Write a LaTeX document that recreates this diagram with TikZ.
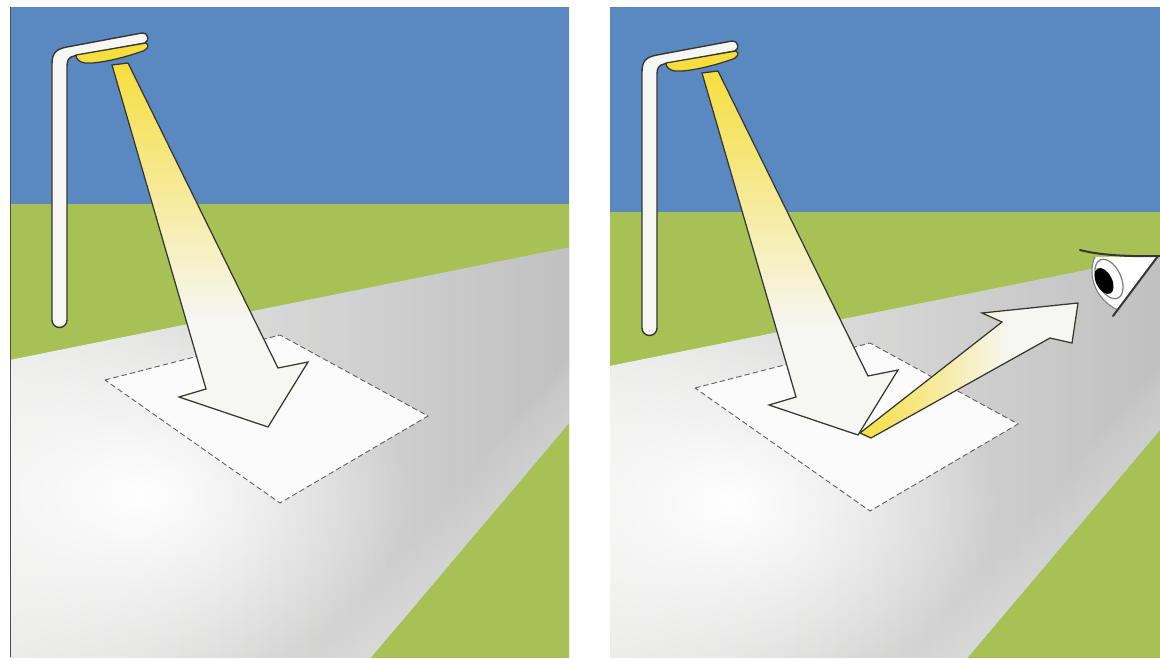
\documentclass[tikz,border=0pt]{standalone}
\usepackage{tikz}
\usetikzlibrary{calc}
\usetikzlibrary{fadings}

\definecolor{sky}{RGB}{90,136,192}
\definecolor{grass}{RGB}{167,193,84}
\definecolor{roadlight}{RGB}{238,238,237}
\definecolor{roadmid}{RGB}{232,232,231}
\definecolor{roaddark}{RGB}{194,193,193}
\definecolor{lampyellow}{RGB}{246,222,60}
\definecolor{beamcream}{RGB}{250,240,200}
\definecolor{offwhite}{RGB}{246,246,243}
\definecolor{outline}{RGB}{55,55,50}

\tikzfading[name=glowfade, inner color=transparent!0, outer color=transparent!100]

\tikzset{
  outlined/.style={draw=outline, line width=0.25mm, line join=miter},
  footprint/.style={fill=white!97!gray, draw=gray!75!black, dash pattern=on 1.1mm off 0.6mm, line width=0.18mm},
  polebar/.style={fill=offwhite, draw=outline, line width=0.28mm},
  lampbowl/.style={fill=lampyellow, draw=outline, line width=0.25mm},
}

\newcommand{\streetview}{%
  \fill[sky] (-20,-20) rectangle (620,204);
  \fill[grass] (-20,204) rectangle (620,680);
  \begin{scope}
    \clip (-20,366) -- (620,237) -- (620,363) -- (352,680) -- (-20,680) -- cycle;
    \shade[left color=roadlight, middle color=roadmid, right color=roaddark] (-20,230) rectangle (560,680);
    \fill[roaddark] (560,230) rectangle (620,680);
    \fill[white, path fading=glowfade] (140,495) ellipse [x radius=270, y radius=190];
    \foreach \h in {6,12,...,54}
      \fill[white, opacity=0.035] (620,363) -- (352,680) -- ({352-\h},680) -- ({620-\h},363) -- cycle;
  \end{scope}
  \filldraw[polebar] (52,320) -- (52,64) .. controls (52,52) and (57,49) .. (67,47) -- (142,33)
    .. controls (148,32) and (150,41) .. (145,43) -- (74,56) .. controls (69,57) and (67,60) .. (67,66)
    -- (67,320) arc[start angle=0, end angle=180, radius=7.5] -- cycle;
  \filldraw[lampbowl] (76,55) -- (146,43) .. controls (150,45) and (148,50) .. (140,52)
    .. controls (120,59) and (96,64) .. (85,63) .. controls (79,62) and (76,59) .. (76,55) -- cycle;
  \filldraw[footprint] (105,380) -- (280,335) -- (428,416) -- (280,503) -- cycle;
  \coordinate (b1) at (112,65);
  \coordinate (b2) at (128,63);
  \coordinate (b3) at (278,368);
  \coordinate (b4) at (308,362);
  \coordinate (tip) at (268,427);
  \coordinate (b6) at (179,397);
  \coordinate (b7) at (206,389);
  \begin{scope}
    \clip (b1) -- (b2) -- (b3) -- (b4) -- (tip) -- (b6) -- (b7) -- cycle;
    \shade[top color=lampyellow, middle color=beamcream, bottom color=offwhite] (100,60) rectangle (320,320);
    \fill[offwhite] (100,320) rectangle (320,430);
  \end{scope}
  \draw[outlined] (b1) -- (b2) -- (b3) -- (b4) -- (tip) -- (b6) -- (b7) -- cycle;
}

\begin{document}
\begin{tikzpicture}[x=0.2mm, y=-0.2mm]
  \useasboundingbox (0,0) rectangle (1160,659);
  \fill[white] (0,0) rectangle (1160,659);

  \begin{scope}
    \clip (10,7) rectangle (569,657);
    \streetview
  \end{scope}
  \draw[gray!60!black, line width=0.2mm] (10,7) -- (10,657);

  \begin{scope}
    \clip (610,7) rectangle (1160,657);
    \begin{scope}[shift={(590,8)}]
      \streetview
      \coordinate (r1) at (270,425);
      \coordinate (r2) at (412,314);
      \coordinate (r3) at (392,305);
      \coordinate (eyeward) at (488,295);
      \coordinate (r5) at (482,335);
      \coordinate (r6) at (460,330);
      \coordinate (r7) at (281,430);
      \begin{scope}
        \clip (r1) -- (r2) -- (r3) -- (eyeward) -- (r5) -- (r6) -- (r7) -- cycle;
        \shade[left color=lampyellow, middle color=beamcream, right color=offwhite] (265,290) rectangle (420,435);
        \fill[offwhite] (420,290) rectangle (495,435);
      \end{scope}
      \draw[outlined] (r1) -- (r2) -- (r3) -- (eyeward) -- (r5) -- (r6) -- (r7) -- cycle;
      \begin{scope}
        \clip (505,249) -- (568,248) -- (528,302) .. controls (514,296) and (503,282) .. (502,265) .. controls (502,258) and (503,252) .. (505,249) -- cycle;
        \fill[white] (495,240) rectangle (575,315);
        \draw[gray, line width=0.25mm, rotate around={25:(519,271)}] (519,271) ellipse [x radius=12, y radius=21];
        \fill[black, rotate around={27:(514,273)}] (514,273) ellipse [x radius=8, y radius=14];
      \end{scope}
      \draw[gray, line width=0.22mm] (505,249) .. controls (503,252) and (502,258) .. (502,265) .. controls (503,282) and (514,296) .. (528,302);
      \draw[outline, line width=0.4mm, line cap=round] (490,242) .. controls (505,246) and (530,249) .. (572,248);
      \draw[outline, line width=0.4mm, line cap=round] (568,248) -- (523,308);
    \end{scope}
  \end{scope}
\end{tikzpicture}
\end{document}
